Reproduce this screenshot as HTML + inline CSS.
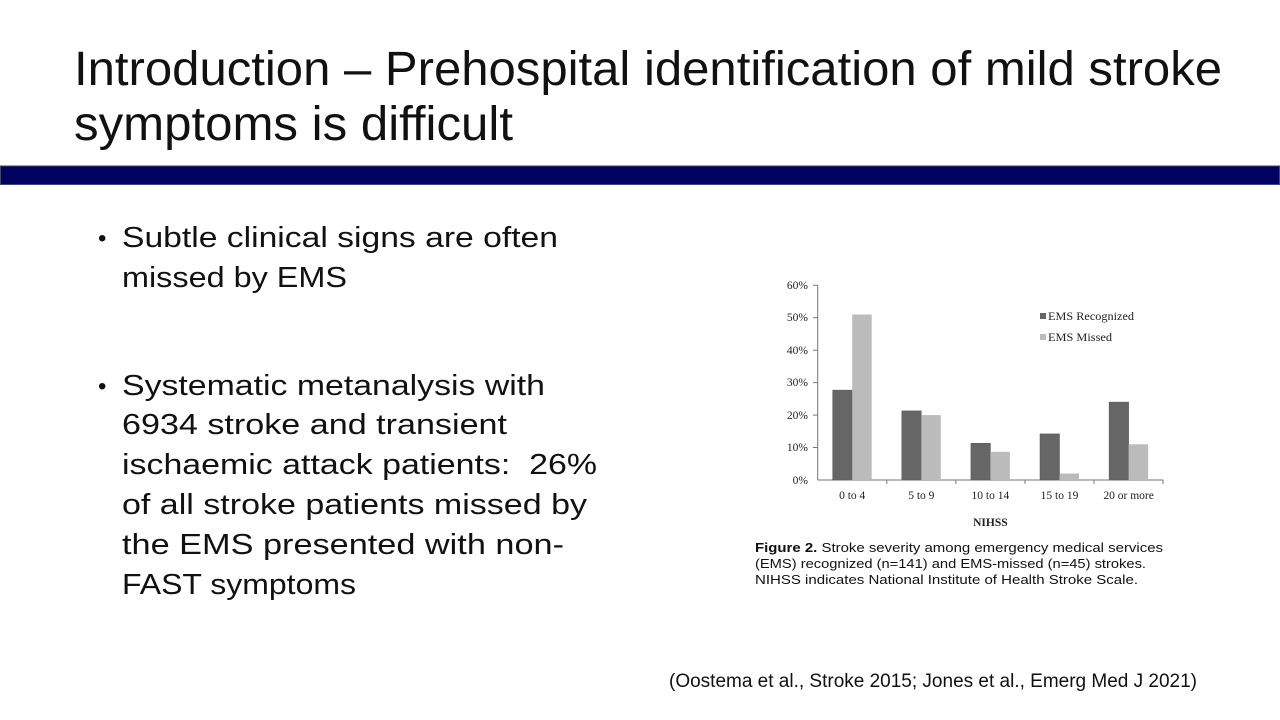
<!DOCTYPE html>
<html><head><meta charset="utf-8"><style>
html,body{margin:0;padding:0;background:#fff;}
svg{display:block;}
</style></head><body>
<svg width="1280" height="720" viewBox="0 0 1280 720" xmlns="http://www.w3.org/2000/svg" font-family="Liberation Sans, sans-serif">
<rect width="1280" height="720" fill="#fff"/>
<g font-size="48" fill="#111">
<text x="74" y="85" textLength="1148" lengthAdjust="spacingAndGlyphs">Introduction – Prehospital identification of mild stroke</text>
<text x="74" y="140" textLength="439" lengthAdjust="spacingAndGlyphs">symptoms is difficult</text>
</g>
<rect x="0.5" y="166" width="1279" height="18.5" fill="#000060" stroke="#3a4a6a" stroke-width="1"/>
<g font-size="29" fill="#111">
<text x="98" y="246" font-size="24">•</text>
<text x="122" y="247" textLength="436" lengthAdjust="spacingAndGlyphs">Subtle clinical signs are often</text>
<text x="122" y="287" textLength="225" lengthAdjust="spacingAndGlyphs">missed by EMS</text>
<text x="98" y="394" font-size="24">•</text>
<text x="122" y="395" textLength="423" lengthAdjust="spacingAndGlyphs">Systematic metanalysis with</text>
<text x="122" y="434" textLength="385" lengthAdjust="spacingAndGlyphs">6934 stroke and transient</text>
<text x="122" y="474" textLength="475" lengthAdjust="spacingAndGlyphs">ischaemic attack patients:&#160; 26%</text>
<text x="122" y="514" textLength="465" lengthAdjust="spacingAndGlyphs">of all stroke patients missed by</text>
<text x="122" y="554" textLength="442" lengthAdjust="spacingAndGlyphs">the EMS presented with non-</text>
<text x="122" y="594" textLength="234" lengthAdjust="spacingAndGlyphs">FAST symptoms</text>
</g>
<text x="669" y="687" font-size="19" fill="#111" textLength="528" lengthAdjust="spacingAndGlyphs">(Oostema et al., Stroke 2015; Jones et al., Emerg Med J 2021)</text>

<g font-family="Liberation Serif, serif" font-size="11.5" fill="#222">
<line x1="817.7" y1="285" x2="817.7" y2="480" stroke="#777" stroke-width="1"/>
<line x1="817.7" y1="480" x2="1163" y2="480" stroke="#777" stroke-width="1"/>
<g stroke="#777">
<line x1="813" y1="285.3" x2="817.7" y2="285.3"/><line x1="813" y1="317.7" x2="817.7" y2="317.7"/>
<line x1="813" y1="350.2" x2="817.7" y2="350.2"/><line x1="813" y1="382.6" x2="817.7" y2="382.6"/>
<line x1="813" y1="415.1" x2="817.7" y2="415.1"/><line x1="813" y1="447.5" x2="817.7" y2="447.5"/>
<line x1="886.8" y1="480" x2="886.8" y2="484"/><line x1="955.9" y1="480" x2="955.9" y2="484"/>
<line x1="1025" y1="480" x2="1025" y2="484"/><line x1="1094" y1="480" x2="1094" y2="484"/>
<line x1="1163" y1="480" x2="1163" y2="484"/>
</g>
<g text-anchor="end">
<text x="808" y="289">60%</text><text x="808" y="321">50%</text><text x="808" y="354">40%</text>
<text x="808" y="386">30%</text><text x="808" y="419">20%</text><text x="808" y="451">10%</text>
<text x="808" y="484">0%</text>
</g>
<g fill="#666" stroke="#555" stroke-width="0.5">
<rect x="832.7" y="390.1" width="19.5" height="89.9"/>
<rect x="901.8" y="410.9" width="19.5" height="69.1"/>
<rect x="970.9" y="443.3" width="19.5" height="36.7"/>
<rect x="1040" y="433.9" width="19.5" height="46.1"/>
<rect x="1109.1" y="402.1" width="19.5" height="77.9"/>
</g>
<g fill="#bbb">
<rect x="852.2" y="314.5" width="19.5" height="165.5"/>
<rect x="921.3" y="415.1" width="19.5" height="64.9"/>
<rect x="990.4" y="451.8" width="19.5" height="28.2"/>
<rect x="1059.5" y="473.5" width="19.5" height="6.5"/>
<rect x="1128.6" y="444.3" width="19.5" height="35.7"/>
</g>
<g text-anchor="middle">
<text x="852.2" y="499">0 to 4</text><text x="921.3" y="499">5 to 9</text>
<text x="990.4" y="499">10 to 14</text><text x="1059.5" y="499">15 to 19</text>
<text x="1128.6" y="499">20 or more</text>
<text x="990.4" y="526" font-weight="bold">NIHSS</text>
</g>
<rect x="1040" y="313" width="6" height="6" fill="#666"/>
<text x="1048" y="320" textLength="86" lengthAdjust="spacingAndGlyphs">EMS Recognized</text>
<rect x="1040" y="334" width="6" height="6" fill="#bbb"/>
<text x="1048" y="341" textLength="64" lengthAdjust="spacingAndGlyphs">EMS Missed</text>
</g>
<g font-family="Liberation Sans, sans-serif" font-size="13" fill="#111">
<text x="755" y="552" textLength="408" lengthAdjust="spacingAndGlyphs"><tspan font-weight="bold">Figure 2.</tspan> Stroke severity among emergency medical services</text>
<text x="755" y="568" textLength="391" lengthAdjust="spacingAndGlyphs">(EMS) recognized (n=141) and EMS-missed (n=45) strokes.</text>
<text x="755" y="584" textLength="383" lengthAdjust="spacingAndGlyphs">NIHSS indicates National Institute of Health Stroke Scale.</text>
</g>
</svg>
</body></html>
